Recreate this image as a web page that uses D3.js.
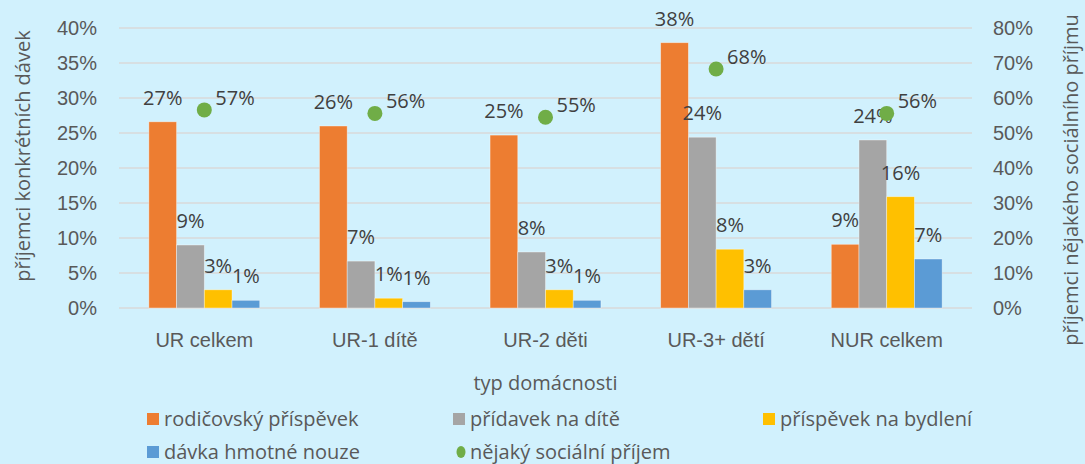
<!DOCTYPE html>
<html>
<head>
<meta charset="utf-8">
<script src="https://cdn.jsdelivr.net/npm/d3@7"></script>
<style>
  body { margin: 0; background: #d1f1fd; }
  svg { display: block; font-family: "Open Sans", "Noto Sans", sans-serif; }
</style>
</head>
<body>
<svg id="chart"></svg>
<script>
// data
var categories = ['UR celkem', 'UR-1 dítě', 'UR-2 děti', 'UR-3+ dětí', 'NUR celkem'];
var seriesNames = ['rodičovský příspěvek', 'přídavek na dítě', 'příspěvek na bydlení', 'dávka hmotné nouze'];
var rodicovsky = [26.6, 26.0, 24.7, 37.9, 9.1];
var pridavek = [9.0, 6.7, 8.0, 24.4, 24.0];
var bydleni = [2.6, 1.4, 2.6, 8.4, 15.9];
var hmotnaNouze = [1.1, 0.9, 1.1, 2.6, 7.0];
var socialniPrijem = [56.6, 55.6, 54.5, 68.3, 55.6];
var dotName = 'nějaký sociální příjem';
var leftTicks = [0, 5, 10, 15, 20, 25, 30, 35, 40];
var rightTicks = [0, 10, 20, 30, 40, 50, 60, 70, 80];
var colors = ['#ED7D31', '#A5A5A5', '#FFC000', '#5B9BD5'];
var dotColor = '#70AD47';

var width = 1085, height = 464;
var plot = { left: 119, right: 972, top: 28, bottom: 308 };
var fontSize = '20px';

var series = [rodicovsky, pridavek, bydleni, hmotnaNouze];

var svg = d3.select('#chart')
    .attr('width', width)
    .attr('height', height);

var x0 = d3.scaleBand()
    .domain(categories)
    .range([plot.left, plot.right])
    .paddingInner(0.35)
    .paddingOuter(0.175);

var x1 = d3.scaleBand()
    .domain(d3.range(series.length))
    .range([0, x0.bandwidth()]);

var yLeft = d3.scaleLinear().domain([0, 40]).range([plot.bottom, plot.top]);
var yRight = d3.scaleLinear().domain([0, 80]).range([plot.bottom, plot.top]);

// gridlines
svg.append('g')
    .selectAll('line')
    .data(leftTicks)
    .enter()
    .append('line')
    .attr('x1', plot.left)
    .attr('x2', plot.right)
    .attr('y1', d => yLeft(d))
    .attr('y2', d => yLeft(d))
    .attr('stroke', '#d9d9d9')
    .attr('stroke-width', 1.5);

// left axis
var leftAxis = svg.append('g')
    .attr('transform', `translate(${plot.left - 22}, 0)`)
    .call(d3.axisLeft(yLeft).tickValues(leftTicks).tickFormat(d => d + '%').tickSize(0).tickPadding(0));
leftAxis.select('.domain').remove();
leftAxis.selectAll('text')
    .attr('fill', '#595959')
    .style('font-size', fontSize)
    .style('font-family', 'inherit');

// right axis
var rightAxis = svg.append('g')
    .attr('transform', `translate(${plot.right + 21}, 0)`)
    .call(d3.axisRight(yRight).tickValues(rightTicks).tickFormat(d => d + '%').tickSize(0).tickPadding(0));
rightAxis.select('.domain').remove();
rightAxis.selectAll('text')
    .attr('fill', '#595959')
    .style('font-size', fontSize)
    .style('font-family', 'inherit');

// category axis
var xAxis = svg.append('g')
    .attr('transform', `translate(0, ${plot.bottom})`)
    .call(d3.axisBottom(x0).tickSize(0).tickPadding(25));
xAxis.select('.domain').remove();
xAxis.selectAll('text')
    .attr('fill', '#595959')
    .style('font-size', fontSize)
    .style('font-family', 'inherit');

// bars
var groups = svg.selectAll('.group')
    .data(categories)
    .enter()
    .append('g')
    .attr('class', 'group')
    .attr('transform', d => `translate(${x0(d)}, 0)`);

groups.selectAll('rect')
    .data((c, i) => series.map((s, j) => ({ j: j, v: s[i] })))
    .enter()
    .append('rect')
    .attr('x', d => x1(d.j))
    .attr('y', d => yLeft(d.v))
    .attr('width', x1.bandwidth())
    .attr('height', d => plot.bottom - yLeft(d.v))
    .attr('fill', d => colors[d.j])
    .attr('stroke', 'rgba(255,255,255,0.5)')
    .attr('stroke-width', 0.75);

groups.selectAll('.bar-label')
    .data((c, i) => series.map((s, j) => ({ j: j, v: s[i] })))
    .enter()
    .append('text')
    .attr('class', 'bar-label')
    .attr('x', d => x1(d.j) + x1.bandwidth() / 2)
    .attr('y', d => yLeft(d.v) - 17)
    .attr('text-anchor', 'middle')
    .attr('fill', '#404040')
    .style('font-size', fontSize)
    .text(d => Math.round(d.v) + '%');

// social income dots (right axis)
svg.selectAll('.dot')
    .data(socialniPrijem)
    .enter()
    .append('circle')
    .attr('class', 'dot')
    .attr('cx', (d, i) => x0(categories[i]) + x0.bandwidth() / 2)
    .attr('cy', d => yRight(d))
    .attr('r', 7.5)
    .attr('fill', dotColor);

svg.selectAll('.dot-label')
    .data(socialniPrijem)
    .enter()
    .append('text')
    .attr('class', 'dot-label')
    .attr('x', (d, i) => x0(categories[i]) + x0.bandwidth() / 2 + 11)
    .attr('y', d => yRight(d) - 5)
    .attr('fill', '#404040')
    .style('font-size', fontSize)
    .text(d => Math.round(d) + '%');

// axis titles
svg.append('text')
    .attr('transform', 'translate(30, 156) rotate(-90)')
    .attr('text-anchor', 'middle')
    .attr('fill', '#595959')
    .style('font-size', fontSize)
    .text('příjemci konkrétních dávek');

svg.append('text')
    .attr('transform', 'translate(1078, 180) rotate(-90)')
    .attr('text-anchor', 'middle')
    .attr('fill', '#595959')
    .style('font-size', fontSize)
    .text('příjemci nějakého sociálního příjmu');

svg.append('text')
    .attr('x', (plot.left + plot.right) / 2)
    .attr('y', 390)
    .attr('text-anchor', 'middle')
    .attr('fill', '#595959')
    .style('font-size', fontSize)
    .text('typ domácnosti');

// legend
var legendItems = [
    { name: seriesNames[0], color: colors[0], x: 147, y: 419, type: 'rect' },
    { name: seriesNames[1], color: colors[1], x: 453, y: 419, type: 'rect' },
    { name: seriesNames[2], color: colors[2], x: 763, y: 419, type: 'rect' },
    { name: seriesNames[3], color: colors[3], x: 147, y: 452, type: 'rect' },
    { name: dotName, color: dotColor, x: 453, y: 452, type: 'dot' }
];

var legend = svg.selectAll('.legend-item')
    .data(legendItems)
    .enter()
    .append('g')
    .attr('class', 'legend-item')
    .attr('transform', d => `translate(${d.x}, ${d.y})`);

legend.filter(d => d.type === 'rect')
    .append('rect')
    .attr('x', 0)
    .attr('y', -6)
    .attr('width', 12)
    .attr('height', 12)
    .attr('fill', d => d.color);

legend.filter(d => d.type === 'dot')
    .append('ellipse')
    .attr('cx', 8)
    .attr('cy', 0)
    .attr('rx', 4.5)
    .attr('ry', 6)
    .attr('fill', d => d.color);

legend.append('text')
    .attr('x', 17)
    .attr('y', 7)
    .attr('fill', '#595959')
    .style('font-size', fontSize)
    .text(d => d.name);
</script>
</body>
</html>
